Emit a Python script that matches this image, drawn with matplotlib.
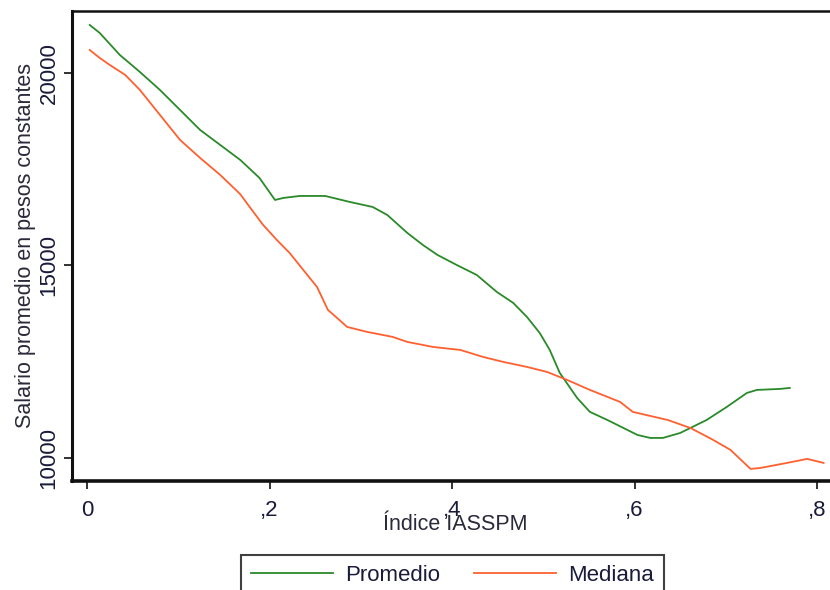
import matplotlib
matplotlib.use("Agg")
import matplotlib.pyplot as plt
from matplotlib.ticker import FuncFormatter

plt.rcParams['font.family'] = ['Liberation Sans', 'DejaVu Sans']

prom_x = [0.003, 0.014, 0.036, 0.058, 0.080, 0.102, 0.124, 0.146, 0.168, 0.189,
          0.206, 0.215, 0.233, 0.261, 0.288, 0.313, 0.329, 0.351, 0.368, 0.384, 0.405,
          0.427, 0.449, 0.467, 0.482, 0.496, 0.507, 0.518, 0.537, 0.551, 0.570, 0.603,
          0.617, 0.631, 0.650, 0.679, 0.701, 0.723, 0.734, 0.759, 0.770]
prom_y = [21247, 21039, 20468, 20026, 19558, 19039, 18519, 18130, 17740, 17273,
          16701, 16753, 16805, 16805, 16649, 16519, 16312, 15844, 15532, 15273, 15013,
          14753, 14312, 14026, 13662, 13247, 12805, 12208, 11558, 11195, 10987, 10597,
          10519, 10519, 10649, 10987, 11325, 11688, 11766, 11792, 11818]

med_x = [0.003, 0.014, 0.025, 0.042, 0.058, 0.080, 0.102, 0.124, 0.146, 0.168, 0.179,
         0.193, 0.208, 0.222, 0.237, 0.252, 0.264, 0.274, 0.285, 0.307, 0.335, 0.351,
         0.379, 0.409, 0.434, 0.456, 0.482, 0.504, 0.526, 0.551, 0.584, 0.598, 0.636,
         0.661, 0.686, 0.705, 0.727, 0.738, 0.767, 0.789, 0.807]
med_y = [20597, 20390, 20208, 19948, 19558, 18909, 18260, 17792, 17351, 16850, 16494,
         16052, 15662, 15325, 14883, 14442, 13844, 13636, 13403, 13273, 13143, 13013,
         12883, 12805, 12623, 12494, 12364, 12234, 12026, 11766, 11455, 11195, 10987,
         10779, 10468, 10208, 9714, 9740, 9870, 9974, 9870]

x_ticks = [0, 0.2, 0.4, 0.6, 0.8]
y_ticks = [10000, 15000, 20000]

green = '#2a8a2a'
orange = '#ff6030'

fig = plt.figure(figsize=(8.3, 5.9), dpi=100)
ax = fig.add_axes([72/830, 1 - 481/590, (840 - 72)/830, (481 - 11)/590])

ax.plot(prom_x, prom_y, color=green, lw=1.3, label='Promedio')
ax.plot(med_x, med_y, color=orange, lw=1.3, label='Mediana')

ax.set_xlim(-0.0164, 0.825)
ax.set_ylim(9400, 21610)
ax.set_xticks(x_ticks)
ax.set_yticks(y_ticks)

def xfmt(v, pos):
    if abs(v) < 1e-9:
        return '0'
    return ('%.1f' % v).replace('0.', ',')

ax.xaxis.set_major_formatter(FuncFormatter(xfmt))
ax.yaxis.set_major_formatter(FuncFormatter(lambda v, p: '%d' % v))

ax.tick_params(axis='both', direction='out', length=6, width=1.3, colors='#222222',
               labelsize=16, labelcolor='#1a1a3a')
ax.tick_params(axis='x', pad=8)
ax.tick_params(axis='y', pad=3)
for lab in ax.get_yticklabels():
    lab.set_rotation(90)
    lab.set_va('center')

ax.spines['left'].set_linewidth(2.2)
ax.spines['bottom'].set_linewidth(2.6)
ax.spines['top'].set_linewidth(1.8)
ax.spines['right'].set_visible(False)
for s in ['left', 'bottom', 'top']:
    ax.spines[s].set_color('#111111')

ax.set_ylabel('Salario promedio en pesos constantes', fontsize=15.5, color='#2a2a3a', labelpad=2)
fig.text(455/830, 1 - 525/590, 'Índice IASSPM', fontsize=15.5, color='#2a2a3a',
         ha='center', va='center')

leg = fig.legend(loc='upper left', bbox_to_anchor=(241/830, 1 - 555/590), ncol=2,
                 fontsize=16, frameon=True, fancybox=False, handlelength=3.7,
                 handletextpad=0.55, columnspacing=1.5, borderpad=0.45, borderaxespad=0)
leg.get_frame().set_edgecolor('#111111')
leg.get_frame().set_linewidth(1.5)
for t in leg.get_texts():
    t.set_color('#1a1a3a')

fig.savefig('out.png', dpi=100)
